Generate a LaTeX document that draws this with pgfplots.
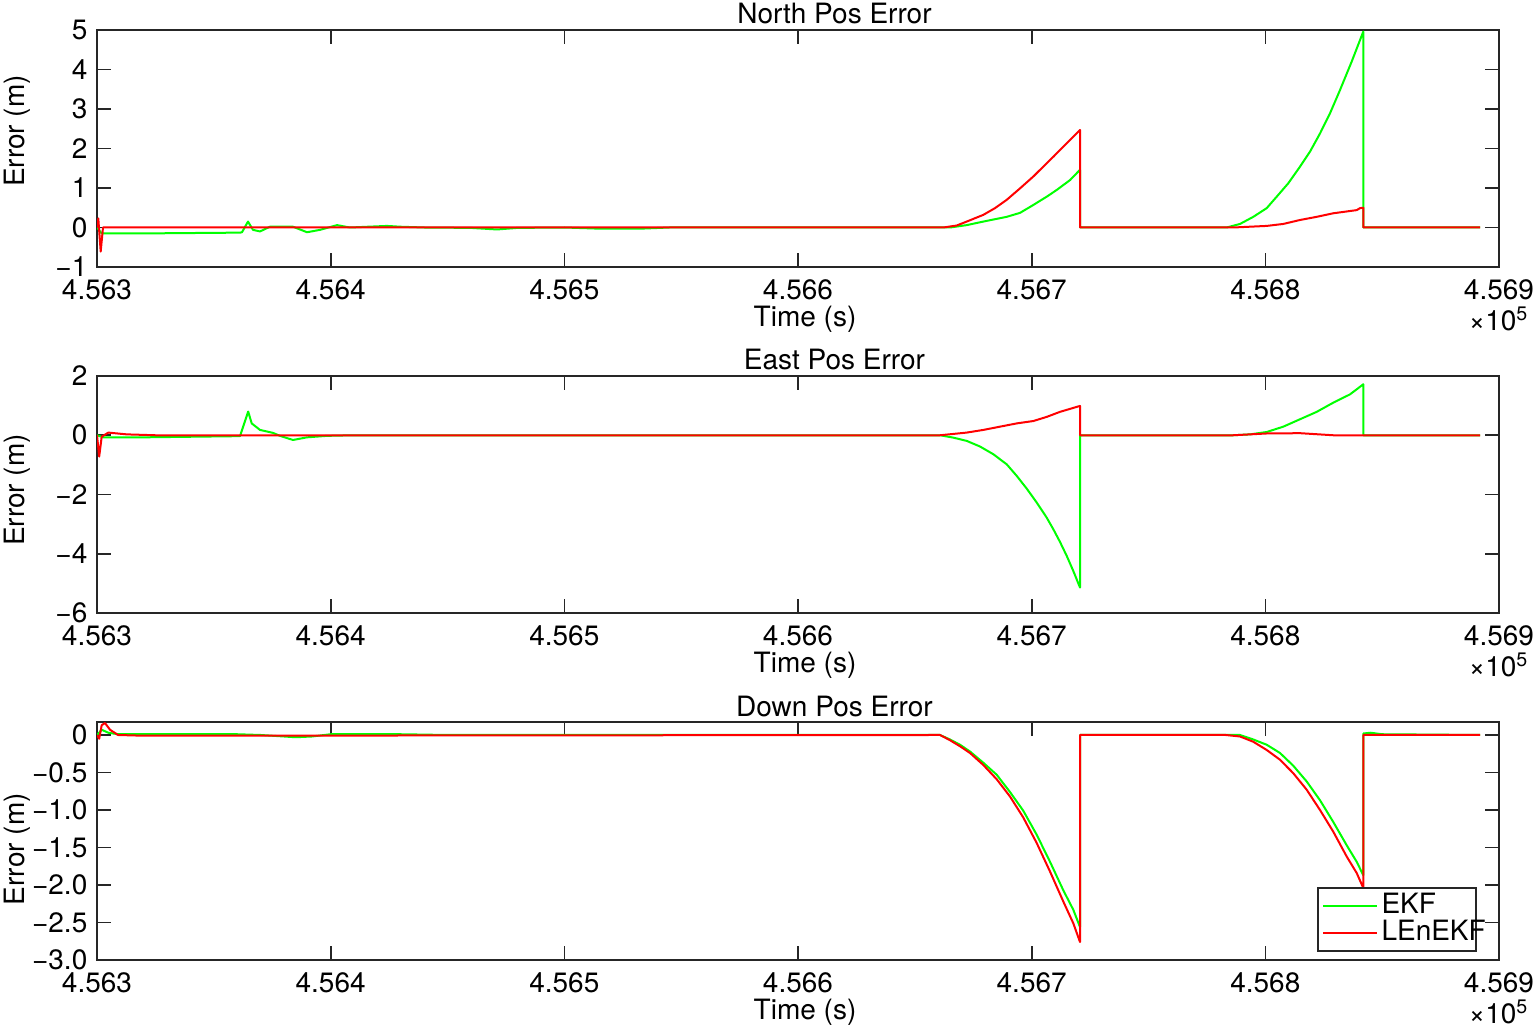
\documentclass[border=0pt]{standalone}
\usepackage{fontspec}
\setmainfont{TeX Gyre Heros}
\usepackage{pgfplots}
\pgfplotsset{compat=1.18}
\definecolor{axgray}{rgb}{0.15,0.15,0.15}
\definecolor{ekf}{rgb}{0,1,0}
\definecolor{lenekf}{rgb}{1,0,0}
\newcommand{\fs}{\fontsize{8.4}{10}\selectfont}

% time is stored as seconds after 4.563e5 s
\pgfplotsset{every axis title shift=0pt,
  errax/.style={
    scale only axis, width=420.6pt, height=71.1pt,
    xmin=0, xmax=600, xtick={0,100,...,600},
    xticklabels={4.563,4.564,4.565,4.566,4.567,4.568,4.569},
    tick align=inside, tick pos=both, major tick length=4.2pt,
    axis line style={axgray, line width=0.5pt},
    tick style={axgray, line width=0.5pt},
    font=\fs, ticklabel style={font=\fs},
    xticklabel style={anchor=center, yshift=-6.8pt, inner sep=0pt},
    yticklabel style={anchor=east, xshift=-2.7pt, inner sep=0pt},
    title style={at={(axis description cs:0.526,1)}, anchor=center, yshift=4.8pt, inner sep=0pt},
    xlabel={Time (s)}, ylabel={Error (m)},
    xlabel style={at={(axis description cs:0.505,0)}, anchor=center, yshift=-15.6pt, inner sep=0pt},
    every axis plot/.append style={line width=0.6pt, line join=round},
}}

\begin{document}
\begin{tikzpicture}
% ---------------- North
\begin{axis}[errax, name=n, at={(0,0)}, anchor=north west,
    title={North Pos Error},
    ymin=-1, ymax=5, ytick={-1,0,...,5},
    yticklabels={−1,0,1,2,3,4,5},
    ylabel style={at={(axis description cs:-0.057,0.574)}, anchor=center, inner sep=0pt}]
\addplot[ekf] coordinates {
(0,0) (2.01,-0.15) (20,-0.15) (61.20,-0.13) (62.05,-0.12) (64.62,0.15)
(66.76,-0.06) (69.76,-0.10) (74.04,0.02) (83.88,0.02) (89.87,-0.12)
(95.43,-0.06) (102.71,0.06) (108.27,0) (124.11,0.04) (129.67,0.02)
(140,0) (160,-0.01) (171.18,-0.05) (180,-0.01) (200,0) (215.26,-0.03)
(232.38,-0.03) (245,0) (365.05,0) (372.19,0.06) (379.30,0.15)
(389.31,0.27) (395.00,0.37) (400.69,0.57) (406.43,0.78) (410.71,0.95)
(416.40,1.20) (420.68,1.46) (420.70,0) (483.46,0) (489.15,0.09)
(494.84,0.27) (500.58,0.49) (504.86,0.78) (509.82,1.12) (514.83,1.54)
(519.11,1.92) (523.39,2.38) (527.67,2.89) (531.95,3.48) (536.95,4.20)
(541.92,4.96) (541.94,0) (591.9,0)};
\addplot[lenekf] coordinates {
(0,0) (0.56,0.23) (1.58,-0.61) (2.57,0) (362.18,0) (367.91,0.05)
(372.19,0.15) (379.30,0.32) (384.30,0.49) (389.31,0.70) (395.00,0.99)
(400.69,1.29) (404.97,1.54) (409.25,1.79) (414.99,2.13) (420.68,2.47)
(420.70,0) (486.28,0) (500.58,0.04) (507.68,0.09) (514.83,0.19)
(521.98,0.27) (529.08,0.36) (539.09,0.44) (540.51,0.49) (541.92,0.50)
(541.94,0) (591.9,0)};
\end{axis}

% ---------------- East
\begin{axis}[errax, name=e, at={(0,-103.8pt)}, anchor=north west,
    title={East Pos Error},
    ymin=-6, ymax=2, ytick={-6,-4,-2,0,2},
    yticklabels={−6,−4,−2,0,2},
    ylabel style={at={(axis description cs:-0.057,0.519)}, anchor=center, inner sep=0pt}]
\addplot[ekf] coordinates {
(0,0) (2.70,-0.07) (20,-0.07) (61.20,-0.03) (64.70,0.80) (66.21,0.40)
(69.76,0.18) (75.32,0.08) (78.32,-0.02) (83.88,-0.16) (89.87,-0.07)
(98.43,-0.02) (110,0) (360.77,0) (366.46,-0.08) (372.19,-0.19)
(377.89,-0.38) (383.58,-0.64) (389.31,-0.98) (393.59,-1.37)
(397.87,-1.80) (402.15,-2.27) (406.43,-2.78) (409.25,-3.17)
(412.12,-3.60) (414.99,-4.07) (417.81,-4.58) (420.68,-5.14) (420.70,0)
(486.28,0) (493.43,0.03) (500.58,0.11) (507.68,0.29) (514.83,0.54)
(521.98,0.79) (529.08,1.10) (536.23,1.38) (541.92,1.72) (541.94,0)
(591.9,0)};
\addplot[lenekf] coordinates {
(0,0) (0.94,-0.72) (2.01,-0.05) (4.84,0.09) (12.71,0.03) (25,0)
(360.77,0) (372.19,0.09) (379.30,0.18) (386.44,0.29) (393.59,0.40)
(400.69,0.48) (406.43,0.62) (412.12,0.79) (420.68,0.99) (420.70,0)
(486.28,0) (500.58,0.06) (514.83,0.07) (529.08,0) (591.9,0)};
\end{axis}

% ---------------- Down
\begin{axis}[errax, name=d, at={(0,-207.6pt)}, anchor=north west,
    height=71.4pt, title={Down Pos Error},
    ymin=-3, ymax=0.173, ytick={-3,-2.5,...,0},
    yticklabels={−3.0,−2.5,−2.0,−1.5,−1.0,−0.5,0},
    ylabel style={at={(axis description cs:-0.057,0.466)}, anchor=center, inner sep=0pt},
    legend style={at={(axis description cs:0.9843,0.0336)}, anchor=south east,
      draw=axgray, line width=0.5pt, inner xsep=1.2pt, inner ysep=0.5pt,
      row sep=-2pt, nodes={inner sep=1.2pt}, font=\fs},
    legend cell align=left,
    legend image code/.code={\draw[#1] (0pt,0pt) -- (16pt,0pt);}]
\addplot[ekf] coordinates {
(0,0) (2.01,0.07) (4.84,0.03) (8.99,0.01) (60,0.01) (70,0) (85,-0.03)
(92,-0.02) (100,0.01) (130,0.01) (150,0) (360.77,0) (365.05,-0.06)
(369.32,-0.13) (373.60,-0.22) (379.30,-0.37) (385.03,-0.53)
(390.72,-0.76) (396.41,-1.01) (402.15,-1.33) (407.84,-1.69)
(413.53,-2.07) (417.81,-2.33) (420.68,-2.56) (420.70,0) (489.15,0)
(494.84,-0.06) (500.58,-0.13) (506.27,-0.24) (511.96,-0.41)
(517.70,-0.62) (523.39,-0.87) (529.08,-1.16) (534.81,-1.47)
(539.09,-1.69) (541.92,-1.87) (541.94,0.02) (545,0.03) (550,0.01)
(591.9,0)};
\addlegendentry{\makebox[26pt][l]{EKF}}
\addplot[lenekf] coordinates {
(0,0) (0.94,-0.05) (2.01,0.13) (3.42,0.16) (5.56,0.07) (8.99,0)
(20,-0.01) (360.77,0) (365.05,-0.07) (369.32,-0.15) (373.60,-0.24)
(379.30,-0.40) (385.03,-0.59) (390.72,-0.82) (396.41,-1.10)
(402.15,-1.44) (407.84,-1.82) (413.53,-2.22) (417.81,-2.51)
(420.68,-2.76) (420.70,0) (483,0) (489.15,-0.02) (494.84,-0.09)
(500.58,-0.20) (506.27,-0.33) (511.96,-0.51) (517.70,-0.73)
(523.39,-1.00) (529.08,-1.29) (534.81,-1.62) (539.09,-1.84)
(541.92,-2.04) (541.94,0) (591.9,0)};
\addlegendentry{\makebox[26pt][l]{LEnEKF}}
\end{axis}

\foreach \ax in {n,e,d}
  \node[font=\fs, anchor=center, inner sep=0pt]
    at ([yshift=-15.6pt]\ax.south east) {×10\textsuperscript{5}};

% page frame with the reference's margins
\pgfresetboundingbox
\path ([shift={(-29.1pt,9pt)}]n.north west) rectangle ([shift={(11.1pt,-21.6pt)}]d.south east);
\end{tikzpicture}
\end{document}
